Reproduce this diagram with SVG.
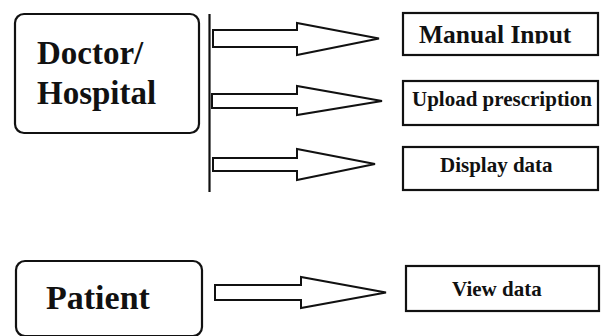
<svg xmlns="http://www.w3.org/2000/svg" width="603" height="336" viewBox="0 0 603 336">
  <style>
    .actor { fill: #fff; stroke: #111; stroke-width: 2.2; }
    .item { fill: #fff; stroke: #111; stroke-width: 2.2; }
    .flow { fill: #fff; stroke: #111; stroke-width: 2; stroke-linejoin: miter; }
    .caption { font-family: 'Liberation Serif', 'Times New Roman', serif; font-weight: bold; fill: #111; }
  </style>
  <defs>
    <!-- the first label is cut off at its baseline -->
    <clipPath id="cut-baseline">
      <rect x="400" y="14" width="200" height="29.5"/>
    </clipPath>
  </defs>
  <rect width="603" height="336" fill="#fff"/>

  <g id="doctor">
    <rect class="actor" x="15" y="14" width="184" height="119" rx="9"/>
    <text class="caption" x="37" y="64" font-size="33">Doctor/</text>
    <text class="caption" x="37" y="104" font-size="33">Hospital</text>
  </g>

  <g id="patient">
    <rect class="actor" x="16" y="261" width="186" height="75" rx="9"/>
    <text class="caption" x="46" y="309" font-size="34">Patient</text>
  </g>

  <g id="manual-input">
    <rect class="item" x="403" y="13" width="195" height="42"/>
    <text class="caption" x="419" y="42.5" font-size="25.5" clip-path="url(#cut-baseline)">Manual Input</text>
  </g>

  <g id="upload-prescription">
    <rect class="item" x="403" y="81" width="195" height="44"/>
    <text class="caption" x="412" y="106" font-size="21">Upload prescription</text>
  </g>

  <g id="display-data">
    <rect class="item" x="403" y="147" width="195" height="43"/>
    <text class="caption" x="440" y="172" font-size="21">Display data</text>
  </g>

  <g id="view-data">
    <rect class="item" x="406" y="266" width="193" height="45"/>
    <text class="caption" x="452" y="296" font-size="21">View data</text>
  </g>

  <g id="connectors">
    <line x1="209.5" y1="14" x2="209.5" y2="192" stroke="#111" stroke-width="2.2"/>
    <polygon class="flow" points="213,30 297,30 297,23 379,38.5 297,55 297,47 213,47"/>
    <polygon class="flow" points="212,94 297,94 297,86 382,101 297,115 297,108 212,108"/>
    <polygon class="flow" points="213,158 297,158 297,149 375,164 297,180 297,171 213,171"/>
    <polygon class="flow" points="215,285 301,285 301,277 386,292.5 301,308 301,300 215,300"/>
  </g>
</svg>
